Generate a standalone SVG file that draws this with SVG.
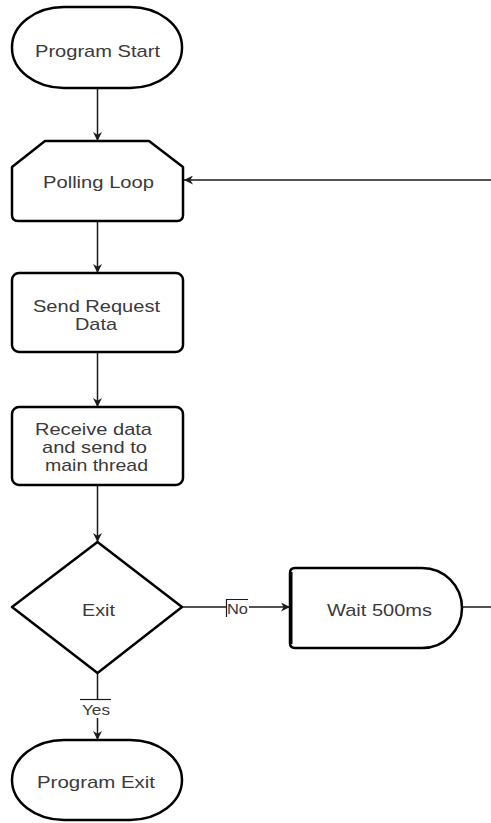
<svg xmlns="http://www.w3.org/2000/svg" width="491" height="823" viewBox="0 0 491 823">
  <style>
    .shape { fill: #ffffff; stroke: #000000; stroke-width: 2.5; stroke-linejoin: round; }
    .edge { fill: none; stroke: #1a1a1a; stroke-width: 1.5; }
    .tick { fill: none; stroke: #1a1a1a; stroke-width: 1.2; }
    .label { font-family: "Liberation Sans", Arial, sans-serif; font-size: 17px; fill: #3a3a3a; text-anchor: middle; }
    .small { font-family: "Liberation Sans", Arial, sans-serif; font-size: 15px; fill: #3a3a3a; text-anchor: middle; }
  </style>
  <defs>
    <marker id="arrow" viewBox="0 0 10 10" refX="10" refY="5" markerWidth="9" markerHeight="9" markerUnits="userSpaceOnUse" orient="auto">
      <path d="M0,0 L10,5 L0,10 L3,5 Z" fill="#1a1a1a"/>
    </marker>
  </defs>

  <rect width="491" height="823" fill="#ffffff"/>

  <!-- connectors -->
  <g id="connectors">
    <line class="edge" x1="97.5" y1="88" x2="97.5" y2="141" marker-end="url(#arrow)"/>
    <line class="edge" x1="97.5" y1="221" x2="97.5" y2="273" marker-end="url(#arrow)"/>
    <line class="edge" x1="97.5" y1="352" x2="97.5" y2="407" marker-end="url(#arrow)"/>
    <line class="edge" x1="97.5" y1="485" x2="97.5" y2="542" marker-end="url(#arrow)"/>
    <line class="edge" x1="97.5" y1="673" x2="97.5" y2="740" marker-end="url(#arrow)"/>
    <line class="edge" x1="182" y1="607" x2="290" y2="607" marker-end="url(#arrow)"/>
    <line class="edge" x1="462" y1="607" x2="491" y2="607"/>
    <line class="edge" x1="491" y1="180" x2="184" y2="180" marker-end="url(#arrow)"/>
    <!-- No label -->
    <rect x="226" y="599" width="23" height="18" fill="#ffffff"/>
    <polyline class="tick" points="226.5,617 226.5,599.5 248,599.5"/>
    <text class="small" x="237.5" y="614" textLength="21" lengthAdjust="spacingAndGlyphs">No</text>
    <!-- Yes label -->
    <rect x="80" y="699" width="32" height="19" fill="#ffffff"/>
    <line class="tick" x1="80" y1="699.5" x2="111" y2="699.5"/>
    <text class="small" x="96" y="715" textLength="28" lengthAdjust="spacingAndGlyphs">Yes</text>
  </g>

  <g id="program-start">
    <rect class="shape" x="12" y="7" width="170" height="81" rx="52" ry="40"/>
    <text class="label" x="97.5" y="57" textLength="125" lengthAdjust="spacingAndGlyphs">Program Start</text>
  </g>

  <g id="polling-loop">
    <path class="shape" d="M12,167 L45,141 L149,141 L183,167 L183,215 Q183,221 177,221 L18,221 Q12,221 12,215 Z"/>
    <text class="label" x="98.5" y="188" textLength="111" lengthAdjust="spacingAndGlyphs">Polling Loop</text>
  </g>

  <g id="send-request">
    <rect class="shape" x="12" y="273" width="171" height="79" rx="7"/>
    <text class="label" x="96.5" y="312" textLength="127" lengthAdjust="spacingAndGlyphs">Send Request</text>
    <text class="label" x="96" y="330" textLength="42" lengthAdjust="spacingAndGlyphs">Data</text>
  </g>

  <g id="receive-data">
    <rect class="shape" x="12" y="407" width="171" height="78" rx="7"/>
    <text class="label" x="93.5" y="435" textLength="117" lengthAdjust="spacingAndGlyphs">Receive data</text>
    <text class="label" x="94.5" y="453" textLength="105" lengthAdjust="spacingAndGlyphs">and send to</text>
    <text class="label" x="96.5" y="471" textLength="103" lengthAdjust="spacingAndGlyphs">main thread</text>
  </g>

  <g id="exit-decision">
    <path class="shape" d="M97.5,542 L182,607 L97.5,673 L12,607 Z"/>
    <text class="label" x="98.5" y="616" textLength="33" lengthAdjust="spacingAndGlyphs">Exit</text>
  </g>

  <g id="wait-500ms">
    <path class="shape" d="M295,568 L422,568 A40,40 0 0 1 422,648 L295,648 Q290,648 290,643 L290,573 Q290,568 295,568 Z"/>
    <line x1="291" y1="572" x2="291" y2="644" stroke="#000000" stroke-width="3"/>
    <text class="label" x="379.5" y="616" textLength="105" lengthAdjust="spacingAndGlyphs">Wait 500ms</text>
  </g>

  <g id="program-exit">
    <rect class="shape" x="12" y="740" width="170" height="80" rx="52" ry="40"/>
    <text class="label" x="96" y="788" textLength="118" lengthAdjust="spacingAndGlyphs">Program Exit</text>
  </g>
</svg>
